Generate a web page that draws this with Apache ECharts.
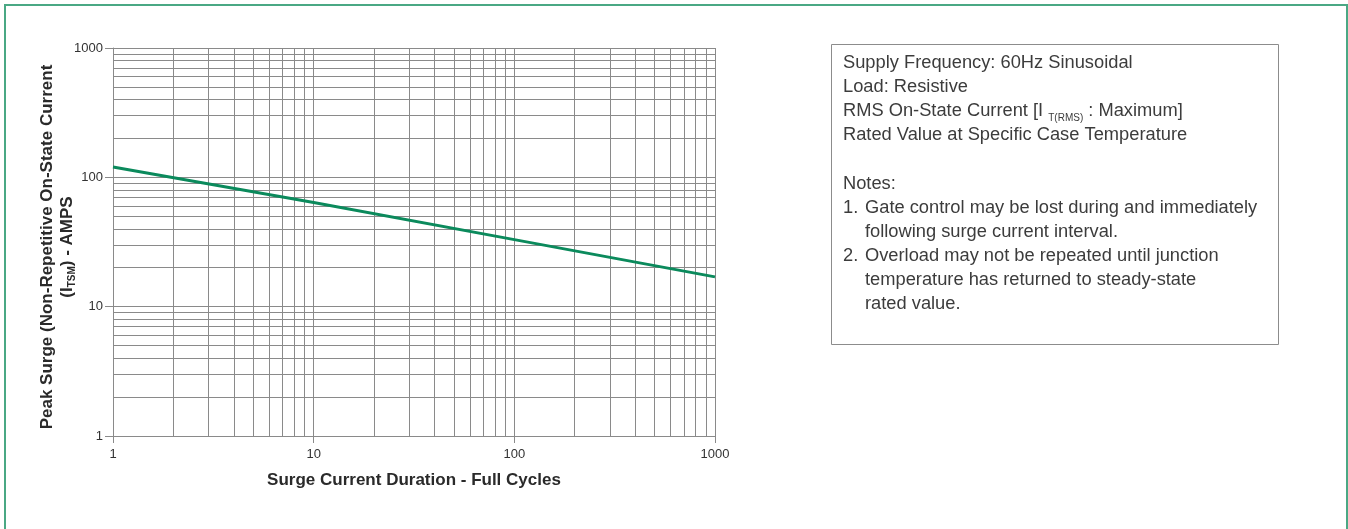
<!DOCTYPE html>
<html><head><meta charset="utf-8">
<script src="https://cdn.jsdelivr.net/npm/echarts@6/dist/echarts.min.js"></script>
<style>html,body{margin:0;padding:0;background:#fff}#c{width:1348px;height:529px}</style>
</head><body><div id="c"></div>
<script>
// Data
const cycles = [1, 10, 100, 1000];
const surgeAmps = [120, 64, 33, 17];
const xTicks = [1, 10, 100, 1000];
const yTicks = [1, 10, 100, 1000];
const minorMultipliers = [2, 3, 4, 5, 6, 7, 8, 9];
const boxLines = [
  'Supply Frequency: 60Hz Sinusoidal',
  'Load: Resistive',
  'RMS On-State Current [I {sub|T(RMS)} : Maximum]',
  'Rated Value at Specific Case Temperature',
  '',
  'Notes:'
];
const notes = [
  ['1.', 'Gate control may be lost during and immediately', 'following surge current interval.'],
  ['2.', 'Overload may not be repeated until junction', 'temperature has returned to steady-state', 'rated value.']
];

const FONT = 'Liberation Sans, Arial, Helvetica, sans-serif';
const gridColor = '#8a8a8a';

// minor grid positions
const minorX = [], minorY = [];
for (let d = 0; d < xTicks.length - 1; d++) minorMultipliers.forEach(m => minorX.push(xTicks[d] * m));
for (let d = 0; d < yTicks.length - 1; d++) minorMultipliers.forEach(m => minorY.push(yTicks[d] * m));

const chart = echarts.init(document.getElementById('c'), null, {renderer: 'canvas'});

// frame and text box graphics
const gfx = [
  {type: 'rect', shape: {x: 5, y: 5, width: 1342, height: 540},
   style: {fill: 'none', stroke: '#4aa884', lineWidth: 2}, silent: true},
  {type: 'rect', shape: {x: 831.5, y: 44.5, width: 447, height: 300},
   style: {fill: 'none', stroke: '#8c8c8c', lineWidth: 1}, silent: true}
];
const textX = 843, indentX = 865, line0 = 63, lh = 24.1;
const TXT = '#3c3c3c';
const baseStyle = {font: '18.3px ' + FONT, fill: TXT, textVerticalAlign: 'middle'};
let row = 0;
boxLines.forEach(t => {
  if (t) {
    gfx.push({type: 'text', x: textX, y: line0 + row * lh, silent: true,
      style: Object.assign({}, baseStyle, {text: t,
        rich: {sub: {fontSize: 10, fontFamily: FONT, fill: TXT, verticalAlign: 'bottom', padding: [14, 0, 0, 0]}}})});
  }
  row++;
});
notes.forEach(n => {
  gfx.push({type: 'text', x: textX, y: line0 + row * lh, silent: true, style: Object.assign({}, baseStyle, {text: n[0]})});
  for (let i = 1; i < n.length; i++) {
    gfx.push({type: 'text', x: indentX, y: line0 + row * lh, silent: true, style: Object.assign({}, baseStyle, {text: n[i]})});
    row++;
  }
});

const mlStyle = {color: gridColor, width: 1, type: 'solid'};
const tickFmt = v => String(v);
chart.setOption({
  animation: false,
  backgroundColor: '#fff',
  grid: {left: 113, top: 48, width: 602, height: 388, containLabel: false},
  xAxis: {
    type: 'log', logBase: 10, min: 1, max: 1000,
    name: 'Surge Current Duration - Full Cycles', nameLocation: 'middle', nameGap: 36,
    nameTextStyle: {fontFamily: FONT, fontWeight: 'bold', fontSize: 17, color: '#2a2a2a'},
    axisLine: {show: true, lineStyle: {color: gridColor, width: 1}},
    axisTick: {show: true, length: 7, lineStyle: {color: gridColor}},
    axisLabel: {fontFamily: FONT, fontSize: 13, color: '#333', margin: 12, formatter: tickFmt},
    splitLine: {show: true, lineStyle: {color: gridColor, width: 1}},
    minorTick: {show: false}, minorSplitLine: {show: false}
  },
  yAxis: {
    type: 'log', logBase: 10, min: 1, max: 1000,
    name: '{b|Peak Surge (Non-Repetitive On-State Current}\n{b|(I}{s|TSM}{b|) - AMPS}',
    nameLocation: 'middle', nameRotate: 90, nameGap: 36, nameMoveOverlap: false,
    nameTextStyle: {fontFamily: FONT, fontWeight: 'bold', fontSize: 17, color: '#2a2a2a', lineHeight: 20,
      padding: [0, 10, 0, 0],
      rich: {
        b: {fontFamily: FONT, fontWeight: 'bold', fontSize: 17, color: '#2a2a2a', lineHeight: 20},
        s: {fontFamily: FONT, fontWeight: 'bold', fontSize: 10, color: '#2a2a2a', lineHeight: 20, verticalAlign: 'bottom', padding: [9, 0, 0, 0]}
      }},
    axisLine: {show: true, lineStyle: {color: gridColor, width: 1}},
    axisTick: {show: true, length: 8, lineStyle: {color: gridColor}},
    axisLabel: {fontFamily: FONT, fontSize: 13, color: '#333', margin: 10, formatter: tickFmt},
    splitLine: {show: true, lineStyle: {color: gridColor, width: 1}},
    minorTick: {show: false}, minorSplitLine: {show: false}
  },
  series: [
    {
      type: 'line', data: [], silent: true, z: 1,
      markLine: {silent: true, symbol: ['none', 'none'], label: {show: false}, animation: false,
        lineStyle: mlStyle,
        data: minorX.map(v => ({xAxis: v})).concat(minorY.map(v => ({yAxis: v})))}
    },
    {
      type: 'line', z: 5, symbol: 'none', silent: true,
      lineStyle: {color: '#0b8a5c', width: 3},
      data: cycles.map((c, i) => [c, surgeAmps[i]])
    }
  ],
  graphic: gfx
});
</script></body></html>
